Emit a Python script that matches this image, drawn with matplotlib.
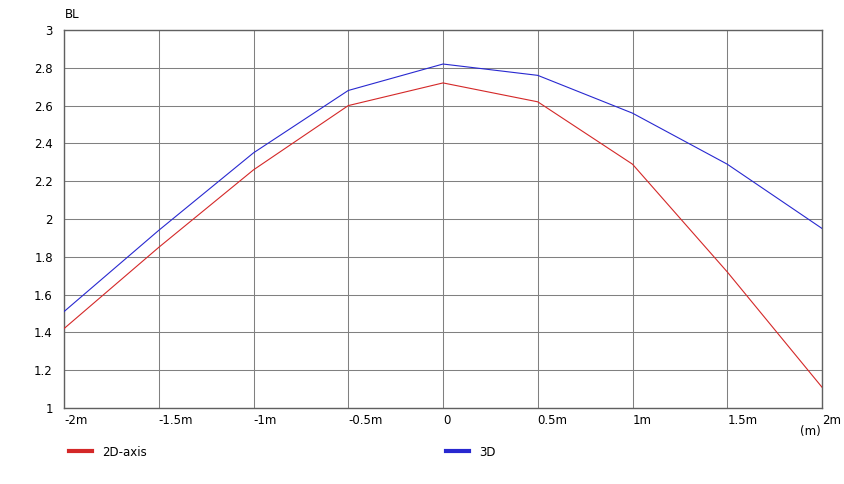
import matplotlib
matplotlib.use("Agg")
import matplotlib.pyplot as plt
from matplotlib.lines import Line2D

# distances (m) and BL values
x_pos = [-2, -1.5, -1, -0.5, 0, 0.5, 1, 1.5, 2]
bl_2d = [1.42, 1.85, 2.26, 2.60, 2.72, 2.62, 2.29, 1.72, 1.11]
bl_3d = [1.51, 1.94, 2.35, 2.68, 2.82, 2.76, 2.56, 2.29, 1.95]
x_labels = ["-2m", "-1.5m", "-1m", "-0.5m", "0", "0.5m", "1m", "1.5m", "2m"]
y_ticks = [1, 1.2, 1.4, 1.6, 1.8, 2, 2.2, 2.4, 2.6, 2.8, 3]
y_labels = ["1", "1.2", "1.4", "1.6", "1.8", "2", "2.2", "2.4", "2.6", "2.8", "3"]

RED = "#d42828"
BLUE = "#2828d0"
GRID = "#808080"
FS = 8.5

W, H = 844, 484
fig = plt.figure(figsize=(W / 100, H / 100), dpi=100)
fig.patch.set_facecolor("white")

# plot area in pixels: left 64, right 822, top 30, bottom 408
ax = fig.add_axes([64 / W, (H - 408) / H, (822 - 64) / W, (408 - 30) / H])
ax.set_xlim(-2, 2)
ax.set_ylim(1, 3)

ax.plot(x_pos, bl_2d, color=RED, lw=0.8, label="2D-axis", zorder=3)
ax.plot(x_pos, bl_3d, color=BLUE, lw=0.8, label="3D", zorder=3)

ax.set_xticks(x_pos)
ax.set_xticklabels(x_labels, fontsize=FS, ha="left")
ax.set_yticks(y_ticks)
ax.set_yticklabels(y_labels, fontsize=FS)
ax.tick_params(axis="both", length=0, colors="black")
ax.tick_params(axis="x", pad=4)
ax.tick_params(axis="y", pad=8)

ax.grid(True, color=GRID, lw=0.75)
ax.set_axisbelow(True)
for s in ax.spines.values():
    s.set_color("#606060")
    s.set_linewidth(1.0)

fig.text(65 / W, 1 - 14 / H, "BL", fontsize=FS, ha="left", va="center")
fig.text(821 / W, 1 - 432 / H, "(m)", fontsize=FS, ha="right", va="center")

# legend entries
h_red = Line2D([], [], color=RED, lw=3)
h_blue = Line2D([], [], color=BLUE, lw=3)
fig.legend([h_red], ["2D-axis"], loc="center left", bbox_to_anchor=(58 / W, 1 - 452 / H),
           frameon=False, fontsize=FS, handlelength=2.0, handletextpad=0.8)
fig.legend([h_blue], ["3D"], loc="center left", bbox_to_anchor=(435 / W, 1 - 452 / H),
           frameon=False, fontsize=FS, handlelength=2.0, handletextpad=0.8)

fig.savefig("out.png", dpi=100, facecolor="white")
